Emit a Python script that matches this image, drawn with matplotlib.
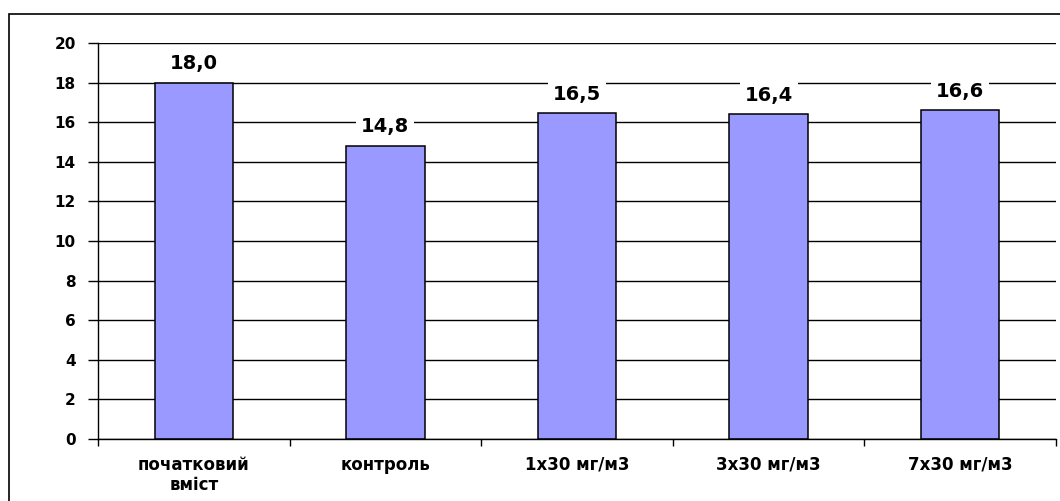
import matplotlib
matplotlib.use("Agg")
import matplotlib.pyplot as plt
from matplotlib.patches import Rectangle

categories = ["початковий\nвміст", "контроль", "1х30 мг/м3", "3х30 мг/м3", "7х30 мг/м3"]
values = [18.0, 14.8, 16.45, 16.4, 16.6]
value_labels = ["18,0", "14,8", "16,5", "16,4", "16,6"]
yticks = [0, 2, 4, 6, 8, 10, 12, 14, 16, 18, 20]

plt.rcParams['font.family'] = ['DejaVu Sans']
plt.rcParams['font.weight'] = 'bold'

W, H = 1060, 501
fig = plt.figure(figsize=(W / 100, H / 100), dpi=100)
fig.patch.set_facecolor('white')

# outer frame
fig.patches.append(Rectangle((9 / W, -0.05), 1.2, (H - 14) / H + 0.05,
                             transform=fig.transFigure, fill=False,
                             edgecolor='black', linewidth=1.2))

ax = fig.add_axes([98 / W, (H - 439) / H, (1056 - 98) / W, (439 - 43) / H])
x = list(range(len(categories)))
ax.set_axisbelow(True)
ax.bar(x, values, width=0.41, color='#9999FF', edgecolor='black', linewidth=1.1, zorder=2)

for xi, v, lab in zip(x, values, value_labels):
    ax.annotate(lab, (xi, v), xytext=(0, 19), textcoords='offset pixels',
                ha='center', va='center', fontsize=14, fontweight='bold',
                bbox=dict(boxstyle='square,pad=0.25', facecolor='white', edgecolor='none'), zorder=3)

ax.set_xlim(-0.5, len(categories) - 0.5)
ax.set_ylim(0, 20)
ax.set_yticks(yticks)
ax.yaxis.grid(True, color='black', linewidth=1.0)
ax.tick_params(axis='y', length=7, width=1, direction='out', labelsize=11, pad=9)

ax.set_xticks([i - 0.5 for i in range(len(categories) + 1)])
ax.set_xticklabels([])
ax.set_xticks(x, minor=True)
ax.set_xticklabels(categories, minor=True, fontsize=12, fontweight='bold', linespacing=1.15)
ax.tick_params(axis='x', which='major', length=5, width=1, direction='out')
ax.tick_params(axis='x', which='minor', length=0, pad=12)
for lbl in ax.get_xticklabels(minor=True):
    lbl.set_verticalalignment('top')

for s in ['top', 'right']:
    ax.spines[s].set_visible(False)
for s in ['left', 'bottom']:
    ax.spines[s].set_color('black')
    ax.spines[s].set_linewidth(1.0)

fig.savefig('out.png', dpi=100)
